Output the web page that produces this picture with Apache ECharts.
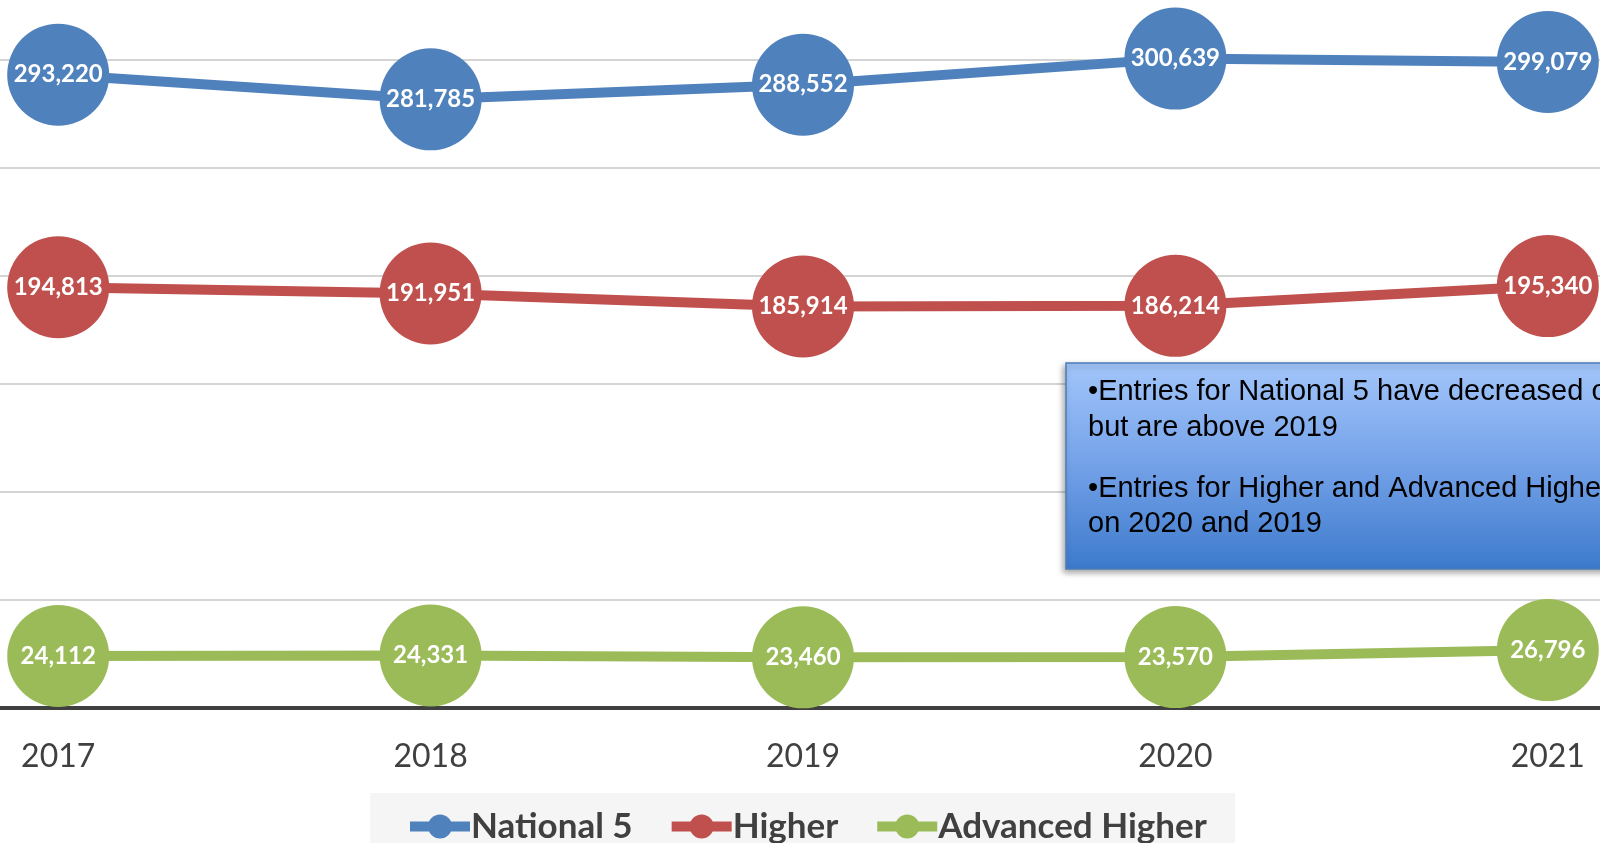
<!DOCTYPE html>
<html>
<head>
<meta charset="utf-8">
<title>Entries 2017-2021</title>
<script src="https://cdn.jsdelivr.net/npm/echarts@6/dist/echarts.min.js"></script>
<style>
	html,body{margin:0;padding:0;background:#fff;}
	#chart{width:1600px;height:843px;}
</style>
</head>
<body>
<div id="chart"></div>
<script>
var years = ["2017", "2018", "2019", "2020", "2021"];
var national5 = [293220, 281785, 288552, 300639, 299079];
var higher = [194813, 191951, 185914, 186214, 195340];
var advancedHigher = [24112, 24331, 23460, 23570, 26796];
var noteLines = [
	"\u2022Entries for National 5 have decreased on 2020",
	"but are above 2019",
	"\u2022Entries for Higher and Advanced Higher have increased",
	"on 2020 and 2019"
];

var colors = ["#4f81bd", "#c0504d", "#9bbb59"];

function makeSeries(name, data, color){
	return {
		name: name,
		type: "line",
		data: data,
		symbol: "circle",
		symbolSize: 102,
		lineStyle: {color: color, width: 10},
		itemStyle: {color: color},
		label: {
			show: true,
			position: "inside",
			color: "#fff",
			fontFamily: "Lato",
			fontWeight: "bold",
			fontSize: 24,
			formatter: function(p){ return echarts.format.addCommas(p.value); }
		}
	};
}

var noteFont = '29px "Liberation Sans"';

var chart = echarts.init(document.getElementById("chart"));
chart.setOption({
	animation: false,
	color: colors,
	// plot area runs past the canvas edges, the picture is a crop
	grid: {left: -128, right: -134, top: -48, bottom: 135, outerBoundsMode: "none", containLabel: false},
	xAxis: {
		type: "category",
		data: years,
		boundaryGap: true,
		axisLine: {lineStyle: {color: "#404040", width: 4}},
		axisTick: {show: false},
		axisLabel: {
			color: "#404040",
			fontFamily: "Lato",
			fontSize: 32,
			margin: 33
		}
	},
	yAxis: {
		type: "value",
		min: 0,
		max: 350000,
		interval: 50000,
		axisLabel: {show: false},
		axisLine: {show: false},
		axisTick: {show: false},
		splitLine: {lineStyle: {color: "#d4d4d4", width: 2}}
	},
	legend: {
		left: 400,
		top: 804,
		itemWidth: 60,
		itemHeight: 30,
		itemGap: 34,
		lineStyle: {width: 10},
		textStyle: {
			color: "#404040",
			fontFamily: "Lato",
			fontWeight: "bold",
			fontSize: 35,
			padding: [0, 0, 0, -4]
		}
	},
	graphic: [
		{
			type: "rect",
			z: -1,
			shape: {x: 370, y: 793, width: 865, height: 60},
			style: {fill: "#f5f5f5"}
		},
		{
			type: "rect",
			z: 10,
			shape: {x: 1066, y: 363, width: 600, height: 206},
			style: {
				fill: {
					type: "linear", x: 0, y: 0, x2: 0, y2: 1,
					colorStops: [
						{offset: 0, color: "#a3c6fa"},
						{offset: 0.5, color: "#73a1e8"},
						{offset: 1, color: "#3d7acc"}
					]
				},
				stroke: "#4a7ebb",
				lineWidth: 1.5,
				shadowBlur: 6,
				shadowOffsetX: -2,
				shadowOffsetY: 3,
				shadowColor: "rgba(0,0,0,0.35)"
			}
		},
		{type: "text", z: 11, x: 1088, y: 392, style: {text: noteLines[0], font: noteFont, fill: "#000", verticalAlign: "middle"}},
		{type: "text", z: 11, x: 1088, y: 428, style: {text: noteLines[1], font: noteFont, fill: "#000", verticalAlign: "middle"}},
		{type: "text", z: 11, x: 1088, y: 489, style: {text: noteLines[2], font: noteFont, fill: "#000", verticalAlign: "middle"}},
		{type: "text", z: 11, x: 1088, y: 524, style: {text: noteLines[3], font: noteFont, fill: "#000", verticalAlign: "middle"}}
	],
	series: [
		makeSeries("National 5", national5, colors[0]),
		makeSeries("Higher", higher, colors[1]),
		makeSeries("Advanced Higher", advancedHigher, colors[2])
	]
});
</script>
</body>
</html>
